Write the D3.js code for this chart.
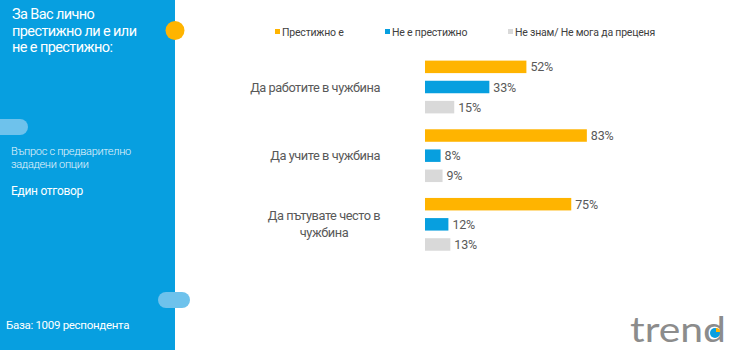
<!DOCTYPE html>
<html lang="bg">
<head>
<meta charset="utf-8">
<script src="https://d3js.org/d3.v7.min.js"></script>
<style>
  body { margin: 0; background: #fff; }
  svg { display: block; font-family: Roboto, "Noto Sans", sans-serif; }
</style>
</head>
<body>
<script>
// data
const categories = [["Да работите в чужбина"], ["Да учите в чужбина"], ["Да пътувате често в", "чужбина"]];
const seriesNames = ["Престижно е", "Не е престижно", "Не знам/ Не мога да преценя"];
const prestigious = [52, 83, 75];
const notPrestigious = [33, 8, 12];
const dontKnow = [15, 9, 13];
const colours = ["#ffb400", "#079fdf", "#d9d9d9"];

const W = 740, H = 350;
const svg = d3.select("body").append("svg").attr("width", W).attr("height", H);

// left blue panel
svg.append("rect").attr("x", 0).attr("y", 0).attr("width", 175).attr("height", H).attr("fill", "#079fe0");
svg.append("rect").attr("x", -10).attr("y", 119).attr("width", 38).attr("height", 16).attr("rx", 8).attr("fill", "#6ec2ec");
svg.append("rect").attr("x", 158).attr("y", 292).attr("width", 32).attr("height", 16).attr("rx", 8).attr("fill", "#6ec2ec");
svg.append("circle").attr("cx", 175).attr("cy", 30.5).attr("r", 9.5).attr("fill", "#ffb400");

const title = svg.append("text").attr("fill", "#fff").attr("font-size", 14.5).attr("letter-spacing", -0.6);
["За Вас лично", "престижно ли е или", "не е престижно:"].forEach((t, i) =>
  title.append("tspan").attr("x", 12).attr("y", 19 + i * 16.5).text(t));

const note = svg.append("text").attr("fill", "#e6f5fc").attr("font-size", 11).attr("font-weight", 300)
  .attr("letter-spacing", -0.3);
["Въпрос с предварително", "зададени опции"].forEach((t, i) =>
  note.append("tspan").attr("x", 11).attr("y", 155 + i * 13).text(t));

svg.append("text").attr("x", 11).attr("y", 195).attr("fill", "#fff").attr("font-size", 12)
  .attr("letter-spacing", -0.3).text("Един отговор");
svg.append("text").attr("x", 6).attr("y", 329).attr("fill", "#fff").attr("font-size", 11.5)
  .attr("letter-spacing", -0.3).text("База: 1009 респондента");

// legend
const legendX = [275, 385, 508];
seriesNames.forEach((s, i) => {
  svg.append("rect").attr("x", legendX[i]).attr("y", 29).attr("width", 5).attr("height", 5).attr("fill", colours[i]);
  svg.append("text").attr("x", legendX[i] + 7).attr("y", 35.5).attr("fill", "#404040")
    .attr("font-size", 10.5).attr("letter-spacing", -0.2).text(s);
});

// scales
const x = d3.scaleLinear().domain([0, 100]).range([425, 620]);
const yGroup = d3.scaleBand().domain(d3.range(categories.length)).range([52, 258]);
const ySeries = d3.scaleBand().domain(d3.range(3)).range([0, 56]).paddingInner(0.38).paddingOuter(0.08);

const series = [prestigious, notPrestigious, dontKnow];
const groups = svg.selectAll("g.grp").data(categories).join("g").attr("class", "grp")
  .attr("transform", (d, i) => `translate(0,${yGroup(i) + 7})`);

groups.each(function(cat, gi) {
  const g = d3.select(this);
  series.forEach((vals, si) => {
    g.append("rect").attr("x", x(0)).attr("y", ySeries(si))
      .attr("width", x(vals[gi]) - x(0)).attr("height", ySeries.bandwidth()).attr("fill", colours[si]);
    g.append("text").attr("x", x(vals[gi]) + 4).attr("y", ySeries(si) + ySeries.bandwidth() / 2 + 4.5)
      .attr("fill", "#595959").attr("font-size", 12.5).attr("letter-spacing", -0.2).text(vals[gi] + "%");
  });
  const mid = ySeries(1) + ySeries.bandwidth() / 2;
  const lbl = g.append("text").attr("fill", "#595959").attr("font-size", 12.8).attr("letter-spacing", -0.45);
  if (cat.length === 1) {
    lbl.attr("text-anchor", "end").append("tspan").attr("x", 380).attr("y", mid + 4.5).text(cat[0]);
  } else {
    lbl.attr("text-anchor", "middle");
    cat.forEach((t, i) => lbl.append("tspan").attr("x", 324).attr("y", mid - 4 + i * 17).text(t));
  }
});

// logo
svg.append("text").attr("x", 630).attr("y", 342).attr("fill", "#8c8c8c").attr("font-size", 34)
  .attr("font-family", "Lato, sans-serif").attr("textLength", 96).attr("lengthAdjust", "spacingAndGlyphs")
  .text("trend");
svg.append("circle").attr("cx", 715).attr("cy", 333).attr("r", 5).attr("fill", "#079fe0");
svg.append("path").attr("transform", "translate(716,332)")
  .attr("d", d3.arc()({innerRadius: 0, outerRadius: 4, startAngle: 0, endAngle: Math.PI / 2})).attr("fill", "#ffb400");
</script>
</body>
</html>
